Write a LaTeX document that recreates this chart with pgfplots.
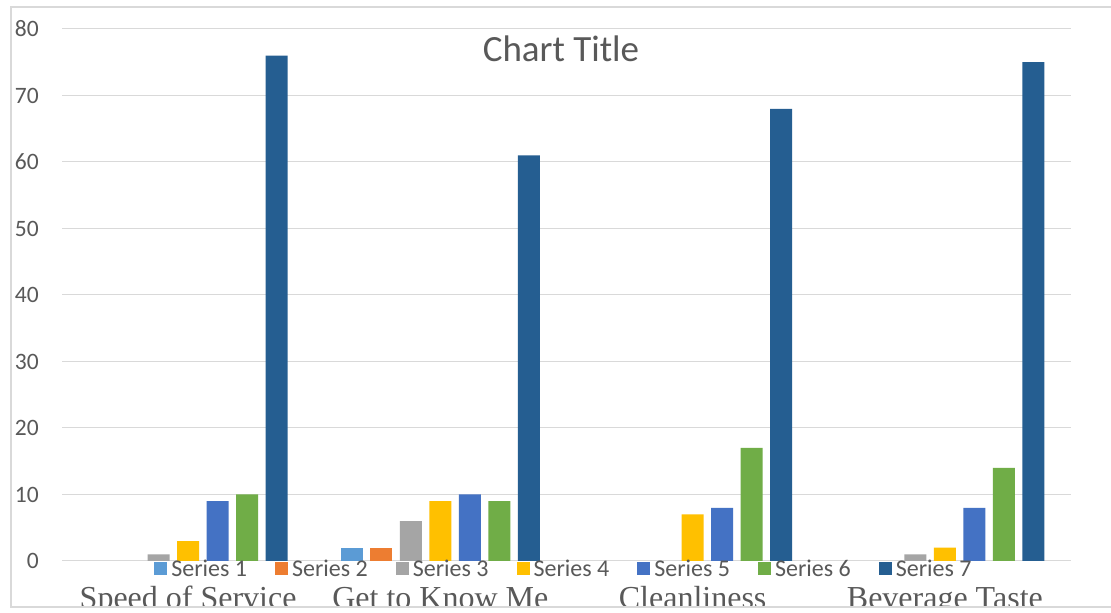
\documentclass[border=0pt]{standalone}
\usepackage{fontspec}
\setmainfont{Carlito}
\newfontfamily\catfont{Liberation Serif}
\usepackage{pgfplots}
\pgfplotsset{compat=1.18}
\definecolor{sA}{HTML}{5B9BD5}
\definecolor{sB}{HTML}{ED7D31}
\definecolor{sC}{HTML}{A5A5A5}
\definecolor{sD}{HTML}{FFC000}
\definecolor{sE}{HTML}{4472C4}
\definecolor{sF}{HTML}{70AD47}
\definecolor{sG}{HTML}{255E91}
\definecolor{txt}{HTML}{595959}
\definecolor{gridc}{HTML}{D9D9D9}
\begin{document}
\begin{tikzpicture}[x=1pt,y=1pt]
\useasboundingbox (0,0) rectangle (1111,613);
\fill[white] (0,0) rectangle (1111,613);
\begin{scope}
\clip (0,7) rectangle (1111,613);
\begin{axis}[
  at={(62pt,52pt)}, anchor=south west,
  scale only axis, width=1009pt, height=532pt,
  xmin=-0.5, xmax=3.5, ymin=0, ymax=80,
  ybar=7.5pt, bar width=22pt,
  xtick={0,1,2,3},
  xticklabels={Speed of Service, Get to Know Me, Cleanliness, Beverage Taste},
  ytick={0,10,...,80},
  ymajorgrids, grid style={gridc, line width=1pt},
  axis line style={draw=none},
  major tick length=0pt,
  /pgf/number format/assume math mode=true,
  yticklabel style={font=\fontsize{23.5}{23.5}\selectfont, text=txt, anchor=east, inner sep=0pt, xshift=-23pt},
  xticklabel style={font=\catfont\fontsize{32}{32}\selectfont, text=txt, anchor=base, inner sep=0pt, yshift=-48pt},
  legend columns=7,
  legend style={at={(axis description cs:0.4985,-0.015)}, anchor=center, draw=none, fill=none,
    font=\fontsize{24}{24}\selectfont, text=txt,
    /tikz/every even column/.append style={column sep=24pt},
    nodes={inner xsep=4pt}},
  legend image code/.code={\fill[#1] (0pt,-6.5pt) rectangle (13pt,6.5pt);},
]
\addplot[fill=sA, draw=none] coordinates {(1,2)};
\addplot[fill=sB, draw=none] coordinates {(1,2)};
\addplot[fill=sC, draw=none] coordinates {(0,1) (1,6) (3,1)};
\addplot[fill=sD, draw=none] coordinates {(0,3) (1,9) (2,7) (3,2)};
\addplot[fill=sE, draw=none] coordinates {(0,9) (1,10) (2,8) (3,8)};
\addplot[fill=sF, draw=none] coordinates {(0,10) (1,9) (2,17) (3,14)};
\addplot[fill=sG, draw=none] coordinates {(0,76) (1,61) (2,68) (3,75)};
\legend{Series 1, Series 2, Series 3, Series 4, Series 5, Series 6, Series 7}
\end{axis}
\end{scope}
\node[anchor=base, font=\fontsize{37}{37}\selectfont, text=txt, inner sep=0pt] at (561,551) {Chart Title};
\draw[gridc, line width=1.2pt] (1112,606) -- (11,606) -- (11,6) -- (1112,6);
\end{tikzpicture}
\end{document}
